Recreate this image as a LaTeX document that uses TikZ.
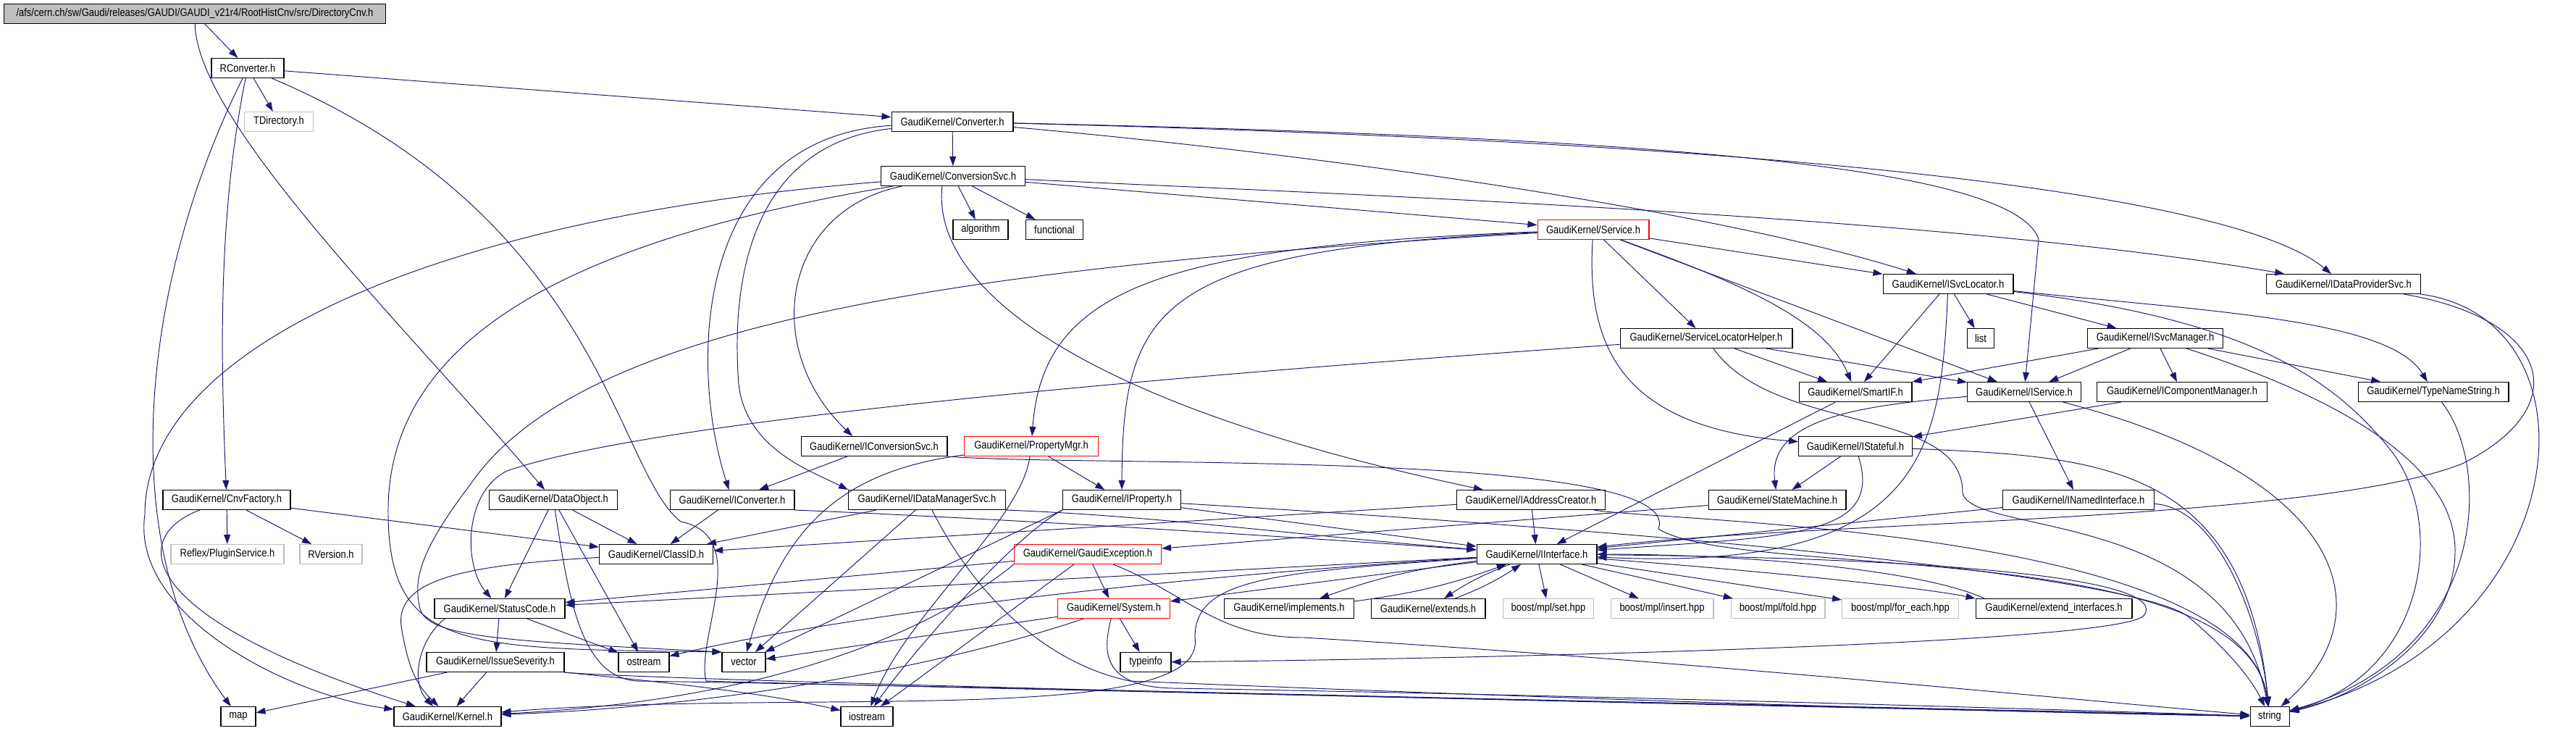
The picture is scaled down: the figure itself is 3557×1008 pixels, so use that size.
\documentclass[tikz,border=0pt]{standalone}
\usepackage{fontspec}
\setmainfont{Liberation Sans}[FakeStretch=0.86]
\usepackage{tikz}
\usetikzlibrary{arrows.meta}
\definecolor{edgeblue}{HTML}{191970}
\definecolor{extgray}{HTML}{BFBFBF}
\tikzstyle{header} = [rectangle, draw=black, fill=white, line width=0.6pt, minimum height=0.54cm, inner sep=0pt, font=\fontsize{8.6}{10}\selectfont]
\tikzstyle{sysheader} = [header, draw=extgray]
\tikzstyle{redheader} = [header, draw=red]
\tikzstyle{rootfile} = [header, fill=extgray]
\tikzstyle{inclarrow} = [draw=edgeblue, line width=0.55pt, -{Triangle[length=0.26cm,width=0.18cm]}]

\begin{document}
\begin{tikzpicture}[x=0.02cm, y=-0.02cm]
\useasboundingbox (0,0) rectangle (3557,1008);

\node (root) [rootfile, minimum width=10.54cm] at (269,19) {/afs/cern.ch/sw/Gaudi/releases/GAUDI/GAUDI\_v21r4/RootHistCnv/src/DirectoryCnv.h};
\node (rconv) [header, minimum width=2.00cm] at (342,94) {RConverter.h};
\node (tdir) [sysheader, minimum width=1.90cm] at (385,168) {TDirectory.h};
\node (conv) [header, minimum width=3.36cm] at (1315,168) {GaudiKernel/Converter.h};
\node (cnvsvc) [header, minimum width=3.98cm] at (1316,243) {GaudiKernel/ConversionSvc.h};
\node (algo) [header, minimum width=1.52cm] at (1354,317) {algorithm};
\node (func) [header, minimum width=1.58cm] at (1456,317) {functional};
\node (svc) [redheader, minimum width=3.08cm] at (2200,317) {GaudiKernel/Service.h};
\node (svcloc) [header, minimum width=3.60cm] at (2690,392) {GaudiKernel/ISvcLocator.h};
\node (dps) [header, minimum width=4.26cm] at (3236,392) {GaudiKernel/IDataProviderSvc.h};
\node (slh) [header, minimum width=4.76cm] at (2356,467) {GaudiKernel/ServiceLocatorHelper.h};
\node (list) [header, minimum width=0.74cm] at (2735,467) {list};
\node (svcmgr) [header, minimum width=3.74cm] at (2976,467) {GaudiKernel/ISvcManager.h};
\node (smartif) [header, minimum width=3.12cm] at (2562,541) {GaudiKernel/SmartIF.h};
\node (isvc) [header, minimum width=3.14cm] at (2795,541) {GaudiKernel/IService.h};
\node (compmgr) [header, minimum width=4.70cm] at (3013,541) {GaudiKernel/IComponentManager.h};
\node (tns) [header, minimum width=4.16cm] at (3360,541) {GaudiKernel/TypeNameString.h};
\node (iconvsvc) [header, minimum width=4.04cm] at (1207,616) {GaudiKernel/IConversionSvc.h};
\node (propmgr) [redheader, minimum width=3.70cm] at (1424,616) {GaudiKernel/PropertyMgr.h};
\node (istateful) [header, minimum width=3.14cm] at (2562,616) {GaudiKernel/IStateful.h};
\node (cnvfac) [header, minimum width=3.52cm] at (313,690) {GaudiKernel/CnvFactory.h};
\node (dataobj) [header, minimum width=3.54cm] at (764,690) {GaudiKernel/DataObject.h};
\node (iconv) [header, minimum width=3.44cm] at (1011,690) {GaudiKernel/IConverter.h};
\node (idms) [header, minimum width=4.34cm] at (1280,690) {GaudiKernel/IDataManagerSvc.h};
\node (iprop) [header, minimum width=3.26cm] at (1549,690) {GaudiKernel/IProperty.h};
\node (iaddr) [header, minimum width=4.10cm] at (2114,690) {GaudiKernel/IAddressCreator.h};
\node (statem) [header, minimum width=3.80cm] at (2454,690) {GaudiKernel/StateMachine.h};
\node (inamed) [header, minimum width=4.18cm] at (2870,690) {GaudiKernel/INamedInterface.h};
\node (reflex) [sysheader, minimum width=3.12cm] at (314,765) {Reflex/PluginService.h};
\node (rver) [sysheader, minimum width=1.72cm] at (457,765) {RVersion.h};
\node (classid) [header, minimum width=3.14cm] at (906,765) {GaudiKernel/ClassID.h};
\node (gexc) [redheader, minimum width=4.06cm] at (1502,765) {GaudiKernel/GaudiException.h};
\node (iif) [header, minimum width=3.32cm] at (2122,765) {GaudiKernel/IInterface.h};
\node (status) [header, minimum width=3.60cm] at (690,840) {GaudiKernel/StatusCode.h};
\node (system) [redheader, minimum width=3.10cm] at (1538,840) {GaudiKernel/System.h};
\node (impl) [header, minimum width=3.58cm] at (1780,840) {GaudiKernel/implements.h};
\node (extends) [header, minimum width=3.16cm] at (1972,840) {GaudiKernel/extends.h};
\node (bset) [sysheader, minimum width=2.50cm] at (2138,840) {boost/mpl/set.hpp};
\node (binsert) [sysheader, minimum width=2.84cm] at (2295,840) {boost/mpl/insert.hpp};
\node (bfold) [sysheader, minimum width=2.60cm] at (2455,840) {boost/mpl/fold.hpp};
\node (bforeach) [sysheader, minimum width=3.22cm] at (2624,840) {boost/mpl/for\_each.hpp};
\node (extif) [header, minimum width=4.32cm] at (2836,840) {GaudiKernel/extend\_interfaces.h};
\node (issue) [header, minimum width=3.80cm] at (684,914) {GaudiKernel/IssueSeverity.h};
\node (ostream) [header, minimum width=1.40cm] at (889,914) {ostream};
\node (vector) [header, minimum width=1.20cm] at (1027,914) {vector};
\node (typeinfo) [header, minimum width=1.40cm] at (1582,914) {typeinfo};
\node (map) [header, minimum width=0.96cm] at (329,989) {map};
\node (kernel) [header, minimum width=2.96cm] at (618,989) {GaudiKernel/Kernel.h};
\node (iostream) [header, minimum width=1.44cm] at (1197,989) {iostream};
\node (string) [header, minimum width=1.08cm] at (3134,989) {string};

\draw [inclarrow] (root) -- (rconv);
\draw [inclarrow] (root) .. controls (272,170) and (560,450) .. (dataobj);
\draw [inclarrow] (rconv) -- (tdir);
\draw [inclarrow] (rconv) -- (conv);
\draw [inclarrow] (rconv) .. controls (300,300) and (305,500) .. (cnvfac);
\draw [inclarrow] (rconv) .. controls (190,400) and (160,760) .. (map);
\draw [inclarrow] (rconv) .. controls (830,300) and (850,650) .. (940,720) .. controls (1040,740) and (960,880) .. (975,940) .. controls (1500,955) and (2600,975) .. (string);

\draw [inclarrow] (conv) -- (cnvsvc);
\draw [inclarrow] (conv) .. controls (960,190) and (950,500) .. (iconv);
\draw [inclarrow] (conv) .. controls (1030,200) and (1010,400) .. (1020,530) .. controls (1030,620) and (1120,650) .. (idms.north west);
\draw [inclarrow] (conv) .. controls (2600,200) and (3100,280) .. (dps);
\draw [inclarrow] (conv) .. controls (2300,190) and (2780,230) .. (2815,330) -- (isvc);
\draw [inclarrow] (conv) .. controls (1900,220) and (2400,300) .. (svcloc);

\draw [inclarrow] (cnvsvc) -- (algo);
\draw [inclarrow] (cnvsvc) -- (func);
\draw [inclarrow] (cnvsvc) -- (svc);
\draw [inclarrow] (cnvsvc) .. controls (1900,270) and (2700,300) .. (dps);
\draw [inclarrow] (cnvsvc) .. controls (1080,290) and (1050,480) .. ([xshift=-0.6cm]iconvsvc.north);
\draw [inclarrow] ([xshift=-0.3cm]cnvsvc.south) .. controls (1285,400) and (1500,560) .. (iaddr);
\draw [inclarrow] (cnvsvc) .. controls (600,300) and (200,480) .. (200,710) .. controls (180,850) and (400,960) .. (kernel);
\draw [inclarrow] (cnvsvc) .. controls (800,330) and (540,460) .. (536,700) .. controls (534,900) and (640,895) .. (vector.north west);

\draw [inclarrow] (svc) -- (svcloc);
\draw [inclarrow] (svc) -- (isvc);
\draw [inclarrow] (svc) -- (slh);
\draw [inclarrow] (svc) .. controls (2400,390) and (2520,440) .. (smartif);
\draw [inclarrow] (svc) .. controls (2190,480) and (2240,590) .. (istateful);
\draw [inclarrow] (svc) .. controls (1600,340) and (1440,400) .. (propmgr);
\draw [inclarrow] (svc) .. controls (1600,345) and (1550,420) .. (iprop);
\draw [inclarrow] (svc) .. controls (1300,370) and (800,450) .. (650,668) .. controls (580,760) and (570,800) .. (580,840) .. controls (590,880) and (700,885) .. (vector.north west);

\draw [inclarrow] (svcloc) -- (smartif);
\draw [inclarrow] (svcloc) .. controls (2680,620) and (2660,790) .. (iif);
\draw [inclarrow] (svcloc) -- (list);
\draw [inclarrow] (svcloc) -- (svcmgr);
\draw [inclarrow] (svcloc) .. controls (3050,430) and (3300,440) .. (tns);
\draw [inclarrow] (svcloc) .. controls (3100,440) and (3220,520) .. (3300,620) .. controls (3380,720) and (3350,930) .. (string);
\draw [inclarrow] (dps) .. controls (3520,440) and (3560,560) .. (3400,640) .. controls (3200,720) and (2500,720) .. (iif);
\draw [inclarrow] (dps) .. controls (3600,440) and (3560,880) .. (string);

\draw [inclarrow] (slh) -- (smartif);
\draw [inclarrow] (slh) -- (isvc);
\draw [inclarrow] (slh) .. controls (1600,520) and (900,580) .. (700,650) .. controls (640,680) and (640,780) .. (status);
\draw [inclarrow] (slh) .. controls (2450,600) and (2710,560) .. (2710,680) .. controls (2720,740) and (3080,700) .. (string);
\draw [inclarrow] (svcmgr) -- (smartif);
\draw [inclarrow] (svcmgr) -- (isvc);
\draw [inclarrow] (svcmgr) -- (compmgr);
\draw [inclarrow] (svcmgr) -- (tns);
\draw [inclarrow] (svcmgr) .. controls (3170,530) and (3390,620) .. (3390,760) .. controls (3390,880) and (3260,960) .. (string);

\draw [inclarrow] (smartif) -- (iif);
\draw [inclarrow] (isvc) .. controls (2560,560) and (2440,580) .. (statem);
\draw [inclarrow] (isvc) -- (inamed);
\draw [inclarrow] (isvc) .. controls (3250,660) and (3290,850) .. (string);
\draw [inclarrow] (compmgr) -- (istateful);
\draw [inclarrow] (tns) .. controls (3440,640) and (3440,900) .. (string);
\draw [inclarrow] (istateful) -- (statem);
\draw [inclarrow] (istateful) .. controls (2600,740) and (2480,740) .. (iif);
\draw [inclarrow] (istateful) .. controls (2900,630) and (3100,640) .. (string);

\draw [inclarrow] (iconvsvc) -- (iconv);
\draw [inclarrow] (iconvsvc.south east) .. controls (1500,645) and (2330,620) .. (2290,730) .. controls (2400,800) and (3100,740) .. (string);
\draw [inclarrow] (propmgr) -- (iprop);
\draw [inclarrow] (propmgr) .. controls (1160,650) and (1080,730) .. (vector);
\draw [inclarrow] (propmgr) .. controls (1410,720) and (1250,850) .. (iostream);

\draw [inclarrow] (cnvfac) -- (reflex);
\draw [inclarrow] (cnvfac) -- (rver);
\draw [inclarrow] (cnvfac) -- (classid);
\draw [inclarrow] (cnvfac) .. controls (180,740) and (180,850) .. (kernel);
\draw [inclarrow] (dataobj) -- (classid);
\draw [inclarrow] (dataobj) -- (status);
\draw [inclarrow] (dataobj) -- (ostream);
\draw [inclarrow] (dataobj) .. controls (785,820) and (800,935) .. (880,940) .. controls (1500,950) and (2600,978) .. (string);

\draw [inclarrow] (iconv) -- (classid);
\draw [inclarrow] (iconv.south east) .. controls (1300,712) and (1700,735) .. (iif);
\draw [inclarrow] (idms) -- (classid);
\draw [inclarrow] (idms) -- (vector);
\draw [inclarrow] (idms.south east) .. controls (1600,712) and (1800,740) .. (iif);
\draw [inclarrow] (idms) .. controls (1330,790) and (1420,910) .. (1560,940) .. controls (2000,958) and (2600,980) .. (string);
\draw [inclarrow] (iprop) -- (iif);
\draw [inclarrow] (iprop.south west) -- (vector);
\draw [inclarrow] (iprop.south west) .. controls (1400,740) and (1260,900) .. (iostream);
\draw [inclarrow] (iprop) .. controls (2400,740) and (2950,800) .. (3020,850) .. controls (3080,900) and (3110,940) .. (string);
\draw [inclarrow] (iaddr) -- (iif);
\draw [inclarrow] (iaddr) -- (classid);
\draw [inclarrow] (iaddr) .. controls (2300,720) and (3100,730) .. (string);
\draw [inclarrow] (statem) -- (gexc);
\draw [inclarrow] (inamed) -- (iif);
\draw [inclarrow] (inamed) .. controls (3060,700) and (3120,850) .. (string);

\draw [inclarrow] (classid) .. controls (640,780) and (540,800) .. (555,870) .. controls (565,930) and (580,950) .. ([xshift=-0.25cm]kernel.north);
\draw [inclarrow] (gexc) -- (status);
\draw [inclarrow] (gexc) -- (system);
\draw [inclarrow] (gexc) -- (iostream);
\draw [inclarrow] (gexc.south west) .. controls (1250,900) and (1000,970) .. (kernel);
\draw [inclarrow] (gexc) .. controls (1640,820) and (1680,880) .. (1800,880) .. controls (2300,910) and (2800,960) .. (string);

\draw [inclarrow] (iif) -- (status);
\draw [inclarrow] (iif) -- (system);
\draw [inclarrow] (iif) to[bend right=6] (impl);
\draw [inclarrow] (impl) to[bend right=6] (iif);
\draw [inclarrow] (iif) to[bend right=6] (extends);
\draw [inclarrow] (extends) to[bend right=6] (iif);
\draw [inclarrow] (iif) -- (bset);
\draw [inclarrow] (iif) -- (binsert);
\draw [inclarrow] (iif) -- (bfold);
\draw [inclarrow] (iif) -- (bforeach);
\draw [inclarrow] (iif) .. controls (2400,785) and (2650,810) .. (extif.north west);
\draw [inclarrow] ([xshift=0.25cm]extif.north west) .. controls (2650,785) and (2400,765) .. (iif);
\draw [inclarrow] (iif) .. controls (1700,790) and (1200,840) .. (ostream);
\draw [inclarrow] (iif) .. controls (2700,770) and (3000,800) .. (2960,850) .. controls (2920,890) and (2000,910) .. (typeinfo);
\draw [inclarrow] (iif) .. controls (1750,790) and (1650,800) .. (1650,880) .. controls (1670,1005) and (1100,950) .. (kernel);

\draw [inclarrow] (system) -- (typeinfo);
\draw [inclarrow] (system) -- (vector);
\draw [inclarrow] (system) .. controls (1300,920) and (1000,975) .. (kernel);
\draw [inclarrow] (system) .. controls (1522,900) and (1522,948) .. (1620,950) .. controls (2200,960) and (2800,978) .. (string);
\draw [inclarrow] (status) -- (issue);
\draw [inclarrow] (status) -- (ostream);
\draw [inclarrow] ([xshift=0.3cm]status.south west) .. controls (580,880) and (565,940) .. ([xshift=-0.4cm]kernel.north);
\draw [inclarrow] (issue) -- (map);
\draw [inclarrow] (issue) -- (kernel);
\draw [inclarrow] (issue.south east) .. controls (900,940) and (1050,955) .. (iostream);
\draw [inclarrow] (issue.south east) .. controls (850,935) and (1500,955) .. (string);
\end{tikzpicture}
\end{document}
